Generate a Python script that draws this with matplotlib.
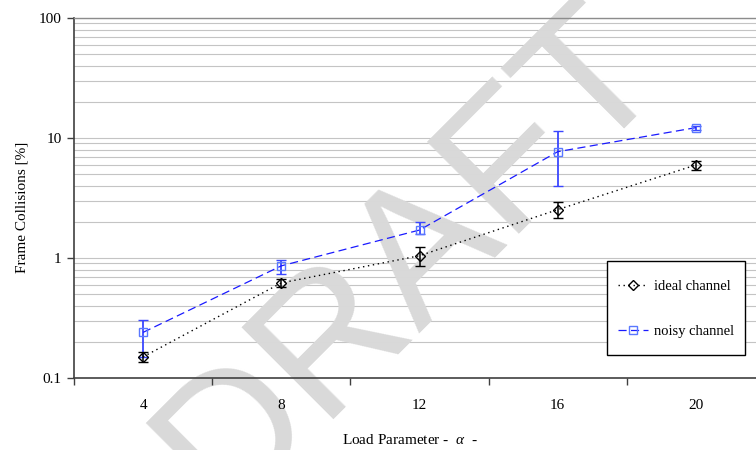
import matplotlib
matplotlib.use("Agg")
import matplotlib.pyplot as plt
from matplotlib.lines import Line2D
from matplotlib.legend_handler import HandlerLine2D
from matplotlib.ticker import FixedLocator, NullLocator, FixedFormatter, NullFormatter
import numpy as np

# ---- data -------------------------------------------------------------
alpha = [4, 8, 12, 16, 20]

ideal = [0.150, 0.620, 1.045, 2.53, 5.96]
ideal_lo = [0.135, 0.576, 0.85, 2.15, 5.38]
ideal_hi = [0.166, 0.668, 1.24, 2.91, 6.43]

noisy = [0.240, 0.860, 1.71, 7.69, 12.2]
noisy_lo = [0.150, 0.740, 1.58, 3.96, 11.6]
noisy_hi = [0.304, 0.960, 1.98, 11.4, 12.7]

y_ticks = [0.1, 1, 10, 100]
y_tick_labels = ["0.1", "1", "10", "100"]

# ---- style ------------------------------------------------------------
plt.rcParams["font.family"] = ["Liberation Serif", "DejaVu Serif"]
plt.rcParams["font.size"] = 11
plt.rcParams["mathtext.fontset"] = "custom"
plt.rcParams["mathtext.it"] = "Liberation Serif:italic"
plt.rcParams["mathtext.rm"] = "Liberation Serif"

W, H = 756, 450
fig = plt.figure(figsize=(W / 100, H / 100), dpi=100)
fig.patch.set_facecolor("white")

# plot area in pixels (it runs a little past the right edge of the figure)
left_px, right_px, top_px, bottom_px = 74, 765, 18, 378
pos = [left_px / W, 1 - bottom_px / H, (right_px - left_px) / W, (bottom_px - top_px) / H]

x = np.arange(len(alpha))
xlim = (-0.5, len(alpha) - 0.5)
ylim = (0.1, 100)

# background axes carrying only the gridlines
bg = fig.add_axes(pos, zorder=0)
bg.set_yscale("log")
bg.set_xlim(*xlim)
bg.set_ylim(*ylim)
bg.yaxis.set_major_locator(FixedLocator(y_ticks))
bg.yaxis.set_minor_locator(FixedLocator(
    [m * 10.0 ** e for e in (-1, 0, 1) for m in range(2, 10)]))
bg.grid(True, which="both", axis="y", color="#c4c4c4", linewidth=0.8)
bg.set_xticks([])
bg.tick_params(axis="y", which="both", length=0, labelleft=False)
for s in bg.spines.values():
    s.set_visible(False)

# watermark between the grid and the data
fig.text(410 / W, 1 - 258 / H, "DRAFT", rotation=45, rotation_mode="anchor",
         ha="center", va="center", fontsize=136, color="#d9d9d9",
         family="Liberation Sans", zorder=1)

# main axes
ax = fig.add_axes(pos, zorder=2)
ax.patch.set_alpha(0)
ax.set_yscale("log")
ax.set_xlim(*xlim)
ax.set_ylim(*ylim)

ax.yaxis.set_major_locator(FixedLocator(y_ticks))
ax.yaxis.set_major_formatter(FixedFormatter(y_tick_labels))
ax.yaxis.set_minor_locator(NullLocator())
ax.yaxis.set_minor_formatter(NullFormatter())
ax.tick_params(axis="y", which="major", direction="out", length=5, width=1,
               color="#404040", pad=4, labelsize=11)

ax.xaxis.set_major_locator(FixedLocator(np.arange(-0.5, len(alpha), 1.0)))
ax.xaxis.set_major_formatter(NullFormatter())
ax.xaxis.set_minor_locator(FixedLocator(x))
ax.xaxis.set_minor_formatter(FixedFormatter([str(a) for a in alpha]))
ax.tick_params(axis="x", which="major", direction="out", length=5, width=1,
               color="#404040")
ax.tick_params(axis="x", which="minor", length=0, pad=15, labelsize=11)

ax.spines["right"].set_visible(False)
ax.spines["top"].set_color("#8c8c8c")
ax.spines["top"].set_linewidth(1.0)
for side in ("left", "bottom"):
    ax.spines[side].set_color("#404040")
    ax.spines[side].set_linewidth(1.2)

noisy_style = dict(color="#1a1aff", linestyle=(0, (6.5, 3.5)), linewidth=0.9,
                   marker="s", markersize=6, markerfacecolor="none",
                   markeredgecolor="#5a78ff", markeredgewidth=1.0)
ideal_style = dict(color="black", linestyle=(0, (1, 2.6)), linewidth=1.0,
                   marker="D", markersize=5.5, markerfacecolor="none",
                   markeredgecolor="black", markeredgewidth=1.0)

# noisy channel
n_err = [np.array(noisy) - np.array(noisy_lo), np.array(noisy_hi) - np.array(noisy)]
ax.errorbar(x, noisy, yerr=n_err, ecolor="#3a46ff", elinewidth=1.3,
            capsize=3.5, capthick=1.2, zorder=3, **noisy_style)

# ideal channel
i_err = [np.array(ideal) - np.array(ideal_lo), np.array(ideal_hi) - np.array(ideal)]
ax.errorbar(x, ideal, yerr=i_err, ecolor="black", elinewidth=1.1,
            capsize=3.5, capthick=1.1, zorder=4, **ideal_style)

ax.set_ylabel("Frame Collisions [%]", fontsize=11)
ax.yaxis.set_label_coords(-0.066, 0.475)
ax.set_xlabel(r"Load Parameter -  $\alpha$  -", fontsize=11)
ax.xaxis.set_label_coords((410 - left_px) / (right_px - left_px),
                          -(433 - bottom_px) / (bottom_px - top_px))


class LoweredLine(HandlerLine2D):
    """Legend line handler that sits level with the label text."""
    shift = 3.0

    def create_artists(self, legend, orig_handle, xdescent, ydescent,
                       width, height, fontsize, trans):
        artists = super().create_artists(legend, orig_handle, xdescent, ydescent,
                                         width, height, fontsize, trans)
        for a in artists:
            a.set_ydata(np.asarray(a.get_ydata()) - self.shift)
        return artists


handles = [Line2D([], [], **ideal_style), Line2D([], [], **noisy_style)]
leg = ax.legend(handles, ["ideal channel", "noisy channel"],
                loc="upper left",
                bbox_to_anchor=((607 - left_px) / (right_px - left_px),
                                (bottom_px - 261) / (bottom_px - top_px)),
                frameon=True, fancybox=False, framealpha=1,
                edgecolor="black", fontsize=10.5, handlelength=2.1,
                handleheight=2.5, handletextpad=0.4, labelspacing=1.25,
                borderpad=0.72, borderaxespad=0, numpoints=1,
                handler_map={Line2D: LoweredLine()})
leg.get_frame().set_linewidth(1.0)

fig.savefig("out.png", dpi=100)
